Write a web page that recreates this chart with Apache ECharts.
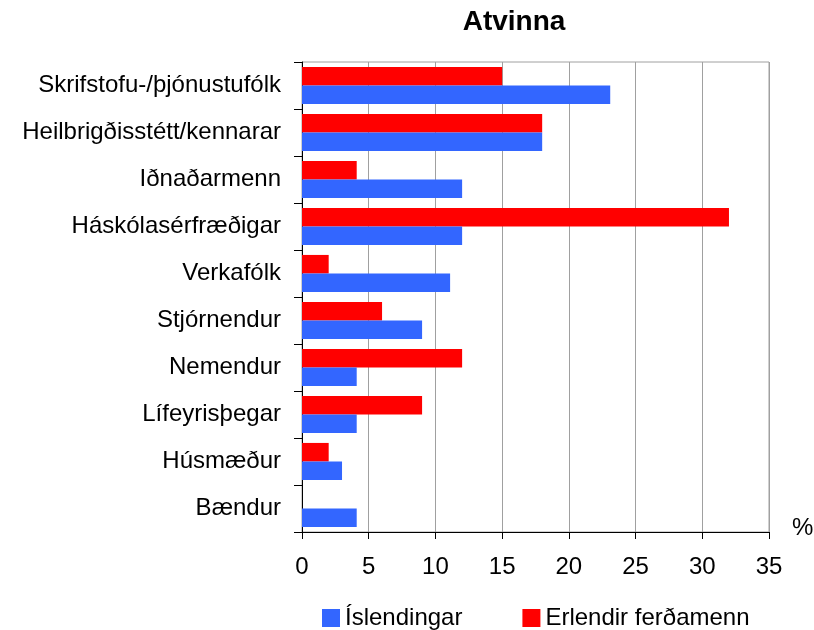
<!DOCTYPE html>
<html><head><meta charset="utf-8">
<script src="https://cdn.jsdelivr.net/npm/echarts@6/dist/echarts.min.js"></script>
<style>html,body{margin:0;padding:0;background:#fff}#c{width:814px;height:630px}</style>
</head><body><div id="c"></div>
<script>
const categories = ["Skrifstofu-/þjónustufólk","Heilbrigðisstétt/kennarar","Iðnaðarmenn","Háskólasérfræðigar","Verkafólk","Stjórnendur","Nemendur","Lífeyrisþegar","Húsmæður","Bændur"];
const islendingar = [23.1, 18, 12, 12, 11.1, 9, 4.1, 4.1, 3, 4.1];
const erlendir = [15, 18, 4.1, 32, 2, 6, 12, 9, 2, 0];
const xTicks = [0,5,10,15,20,25,30,35];

const chart = echarts.init(document.getElementById('c'));
const font = 'Liberation Sans, Arial, sans-serif';
chart.setOption({
  animation:false,
  title:{text:'Atvinna', left:509, top:3, textAlign:'center', textStyle:{fontFamily:font, fontSize:28, fontWeight:'bold', color:'#000'}},
  grid:{left:302, right:45, top:62, bottom:98, show:true, borderColor:'#a0a0a0', borderWidth:1},
  legend:{top:601, left:317, padding:5, itemWidth:18, itemHeight:18, itemGap:60, icon:'rect',
    textStyle:{fontFamily:font, fontSize:24, color:'#000'},
    data:['Íslendingar','Erlendir ferðamenn']},
  graphic:[{type:'text', left:792, top:516, style:{text:'%', font:'24px Liberation Sans, Arial, sans-serif', fill:'#000'}}],
  xAxis:{type:'value', min:0, max:35, interval:5,
    axisLine:{show:true, lineStyle:{color:'#000', width:1}},
    axisTick:{show:true, length:7, lineStyle:{color:'#000'}},
    axisLabel:{fontFamily:font, fontSize:24, color:'#000', margin:23, formatter:v=>xTicks.includes(v)?String(v):''},
    splitLine:{show:true, lineStyle:{color:'#a0a0a0', width:1}}},
  yAxis:{type:'category', data:categories, inverse:true,
    axisLine:{show:true, lineStyle:{color:'#000', width:1}},
    axisTick:{show:true, length:8, inside:false, lineStyle:{color:'#000'}},
    axisLabel:{fontFamily:font, fontSize:24, color:'#000', margin:21}},
  series:[
    {name:'Erlendir ferðamenn', type:'bar', data:erlendir, itemStyle:{color:'#ff0000'}, barGap:'0%', barCategoryGap:'21%'},
    {name:'Íslendingar', type:'bar', data:islendingar, itemStyle:{color:'#3366ff'}, barGap:'0%', barCategoryGap:'21%'}
  ]
});
</script></body></html>
